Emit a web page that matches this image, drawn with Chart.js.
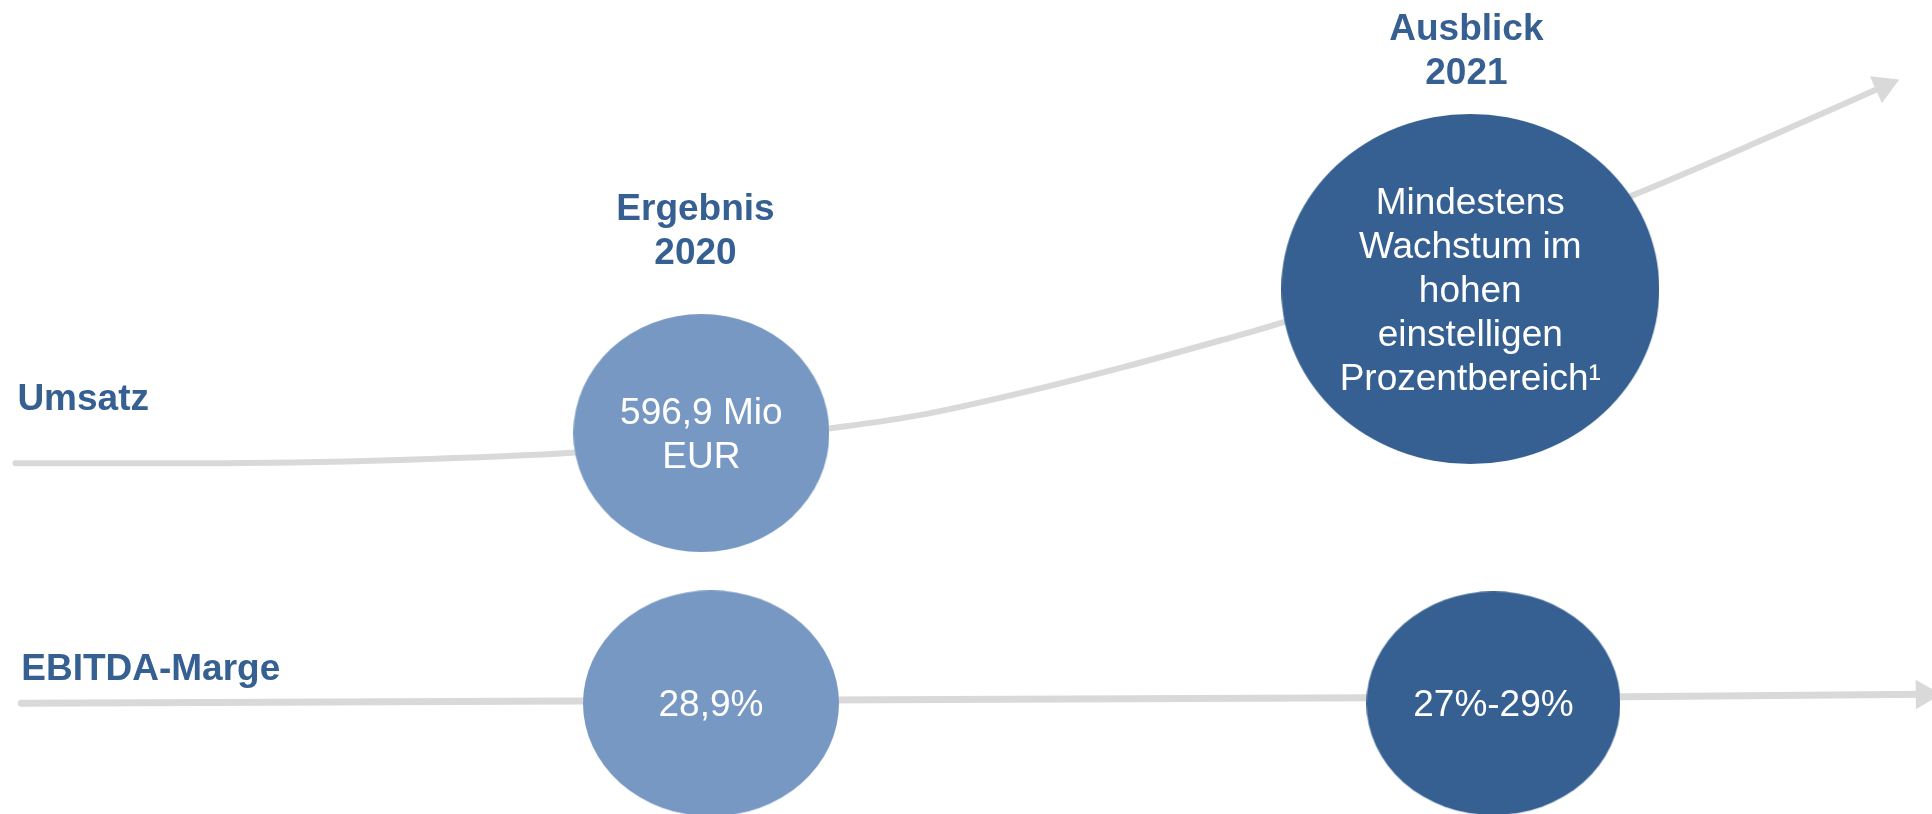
<!DOCTYPE html>
<html lang="de">
<head>
<meta charset="utf-8">
<title>Ergebnis 2020 / Ausblick 2021</title>
<script src="https://cdn.jsdelivr.net/npm/chart.js@4.4.0/dist/chart.umd.min.js"></script>
<style>
  html, body { margin: 0; padding: 0; background: #fff; }
  #wrap { width: 1932px; height: 814px; position: relative; }
</style>
</head>
<body>
<div id="wrap"><canvas id="chartAusblick"></canvas></div>
<script>
// Achsen: x = Zeitstrahl (0-100), y = Niveau (0-100)
const umsatzX = [0.8, 10.4, 20.7, 29.8, 36.2, 43.0, 47.6, 52.8, 58.0, 63.2, 66.4, 75.6, 84.5, 91.5, 97.5];
const umsatzY = [43.1, 43.1, 43.5, 44.4, 45.8, 47.4, 49.0, 51.7, 54.8, 58.2, 60.4, 67.9, 76.0, 83.1, 89.4];
const margeX = [1.1, 84.1, 99.6];
const margeY = [13.6, 14.4, 14.7];

const zeilen = ['Umsatz', 'EBITDA-Marge'];
const zeilenX = [0.9, 1.1];
const zeilenY = [51.3, 18.1];

const spalten = [['Ergebnis', '2020'], ['Ausblick', '2021']];
const spaltenX = [36.0, 75.9];
const spaltenY = [74.6, 96.7];

const werte2020 = [['596,9 Mio', 'EUR'], ['28,9%']];
const werte2021 = [['Mindestens', 'Wachstum im', 'hohen', 'einstelligen', 'Prozentbereich¹'], ['27%-29%']];
const kreis2020X = [36.3, 36.8];
const kreis2020Y = [46.8, 13.6];
const kreis2021X = [76.1, 77.3];
const kreis2021Y = [64.5, 13.6];

// Stil
const farbeHell = '#7798c3', farbeDunkel = '#366092', farbeLinie = '#d9d9d9', farbeText = '#366092';
const groesse2020 = [[128, 119], [128, 113]];
const groesse2021 = [[189, 175], [127, 112]];
const schrift = 'Arial, "Liberation Sans", sans-serif';
const zeilenAbstand = 44;
const textVersatz = 3;

const punkte = (xs, ys) => xs.map((v, i) => ({ x: v, y: ys[i] }));

function ellipse(farbe, rx, ry) {
    const c = document.createElement('canvas');
    c.width = rx * 2; c.height = ry * 2;
    const g = c.getContext('2d');
    g.fillStyle = farbe;
    g.beginPath();
    g.ellipse(rx, ry, rx, ry, 0, 0, Math.PI * 2);
    g.fill();
    return c;
}
const bilder2020 = groesse2020.map(([rx, ry]) => ellipse(farbeHell, rx, ry));
const bilder2021 = groesse2021.map(([rx, ry]) => ellipse(farbeDunkel, rx, ry));

// Pfeilspitze in Richtung des letzten Segments drehen
function pfeilDrehung(ctx) {
    const d = ctx.dataset.data, n = d.length;
    const xs = ctx.chart.scales.x, ys = ctx.chart.scales.y;
    const dx = xs.getPixelForValue(d[n - 1].x) - xs.getPixelForValue(d[n - 2].x);
    const dy = ys.getPixelForValue(d[n - 1].y) - ys.getPixelForValue(d[n - 2].y);
    return Math.atan2(dy, dx) * 180 / Math.PI + 90;
}
const nurLetzter = (r) => (ctx) => ctx.dataIndex === ctx.dataset.data.length - 1 ? r : 0;

const beschriftung = {
    id: 'beschriftung',
    afterDatasetsDraw(chart) {
        const { ctx, scales: { x, y } } = chart;
        const py = (v) => y.getPixelForValue(v) + textVersatz;
        ctx.save();
        ctx.textBaseline = 'middle';

        ctx.fillStyle = farbeText;
        ctx.font = `bold 37px ${schrift}`;
        ctx.textAlign = 'left';
        zeilen.forEach((t, i) => ctx.fillText(t, x.getPixelForValue(zeilenX[i]), py(zeilenY[i])));

        ctx.textAlign = 'center';
        spalten.forEach((linien, i) => {
            linien.forEach((t, j) => ctx.fillText(t, x.getPixelForValue(spaltenX[i]), py(spaltenY[i]) + j * zeilenAbstand));
        });

        ctx.fillStyle = '#ffffff';
        ctx.font = `37px ${schrift}`;
        const kreisText = (texte, xs, ys) => texte.forEach((linien, i) => {
            const px = x.getPixelForValue(xs[i]), mitte = py(ys[i]);
            linien.forEach((t, j) => ctx.fillText(t, px, mitte + (j - (linien.length - 1) / 2) * zeilenAbstand));
        });
        kreisText(werte2020, kreis2020X, kreis2020Y);
        kreisText(werte2021, kreis2021X, kreis2021Y);
        ctx.restore();
    }
};

new Chart('chartAusblick', {
    type: 'line',
    data: {
        datasets: [
            {
                label: 'Ergebnis 2020',
                data: punkte(kreis2020X, kreis2020Y),
                showLine: false,
                pointStyle: (ctx) => bilder2020[ctx.dataIndex],
                pointRadius: 1,
                order: 1,
                clip: false
            },
            {
                label: 'Ausblick 2021',
                data: punkte(kreis2021X, kreis2021Y),
                showLine: false,
                pointStyle: (ctx) => bilder2021[ctx.dataIndex],
                pointRadius: 1,
                order: 1,
                clip: false
            },
            {
                label: 'Umsatz',
                data: punkte(umsatzX, umsatzY),
                borderColor: farbeLinie,
                borderWidth: 6,
                borderCapStyle: 'round',
                cubicInterpolationMode: 'monotone',
                pointStyle: 'triangle',
                pointRadius: nurLetzter(17),
                pointRotation: pfeilDrehung,
                pointBackgroundColor: farbeLinie,
                pointBorderWidth: 0,
                order: 2,
                clip: false
            },
            {
                label: 'EBITDA-Marge',
                data: punkte(margeX, margeY),
                borderColor: farbeLinie,
                borderWidth: 7,
                borderCapStyle: 'round',
                tension: 0,
                pointStyle: 'triangle',
                pointRadius: nurLetzter(17),
                pointRotation: pfeilDrehung,
                pointBackgroundColor: farbeLinie,
                pointBorderWidth: 0,
                order: 2,
                clip: false
            }
        ]
    },
    options: {
        responsive: true,
        maintainAspectRatio: false,
        animation: false,
        events: [],
        layout: { padding: 0, autoPadding: false },
        plugins: { legend: { display: false }, tooltip: { enabled: false } },
        scales: {
            x: { type: 'linear', min: 0, max: 100, display: false },
            y: { type: 'linear', min: 0, max: 100, display: false }
        }
    },
    plugins: [beschriftung]
});
</script>
</body>
</html>
